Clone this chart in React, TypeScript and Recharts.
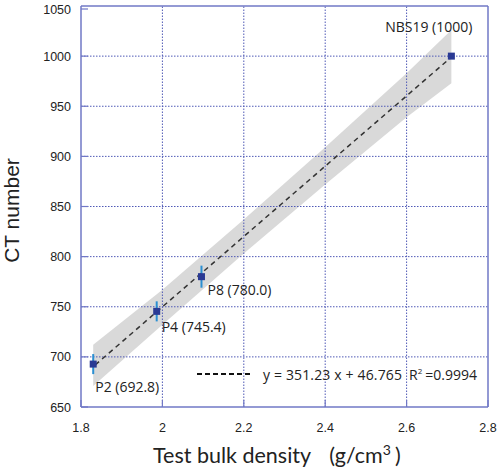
import React from 'react';
import {
  ComposedChart, XAxis, YAxis, Area, Line, Scatter, ErrorBar, ReferenceLine,
} from 'recharts';

// ---- data ----
const xTicks = [1.8, 2.0, 2.2, 2.4, 2.6, 2.8];
const yTicks = [650, 700, 750, 800, 850, 900, 950, 1000, 1050];

const sampleNames = ['P2', 'P4', 'P8', 'NBS19'];
const sampleLabels = ['P2 (692.8)', 'P4 (745.4)', 'P8 (780.0)', 'NBS19 (1000)'];
const sampleDensity = [1.83, 1.986, 2.096, 2.71];
const sampleCT = [692.8, 745.4, 780.0, 1000];
const sampleErr = [10, 10, 11, 0];

const bandX = [1.83, 2.0, 2.2, 2.4, 2.6, 2.71];
const bandLow = [671, 732, 803, 872, 939, 973];
const bandHigh = [712, 767, 837, 909, 983, 1026];

const fitX = [1.835, 2.71];
const fitY = [692, 999];

const fitEquation = 'y = 351.23 x + 46.765';
const fitR2 = '0.9994';

const points = sampleNames.map((n, i) => ({
  name: n, label: sampleLabels[i], x: sampleDensity[i], y: sampleCT[i], err: sampleErr[i],
}));
const band = bandX.map((x, i) => ({ x, range: [bandLow[i], bandHigh[i]] }));
const fit = fitX.map((x, i) => ({ x, y: fitY[i] }));

// ---- styles ----
const AXIS = '#7178c6';
const GRID = '#4f59b6';
const MARK = '#2a3a94';
const ERR = '#2a8fd2';
const TICK_FONT = '"Liberation Sans", Arial, sans-serif';
const LABEL_FONT = '"Open Sans", "Noto Sans", sans-serif';
const TITLE_FONT = 'Lato, "Open Sans", sans-serif';

const labelPlacement: Record<string, { dx: number; dy: number; anchor: 'start' | 'end' }> = {
  P2: { dx: 2, dy: 28, anchor: 'start' },
  P4: { dx: 5, dy: 21, anchor: 'start' },
  P8: { dx: 6, dy: 18, anchor: 'start' },
  NBS19: { dx: 21, dy: -24, anchor: 'end' },
};

const XTick = (props: any) => {
  const { x, y, payload } = props;
  return (
    <g>
      <line x1={x} x2={x} y1={y} y2={y - 7} stroke={AXIS} strokeWidth={1.2} />
      <text x={x} y={y + 24.5} textAnchor="middle" fontFamily={TICK_FONT} fontSize={12.5} fill="#222">
        {String(payload.value)}
      </text>
    </g>
  );
};

const YTick = (props: any) => {
  const { x, y, payload } = props;
  return (
    <g>
      <line x1={x} x2={x + 7} y1={y} y2={y} stroke={AXIS} strokeWidth={1.2} />
      <text x={x - 10} y={y + 4.5} textAnchor="end" fontFamily={TICK_FONT} fontSize={12.5} fill="#222">
        {String(payload.value)}
      </text>
    </g>
  );
};

const PointShape = (props: any) => {
  const { cx, cy, payload } = props;
  const p = labelPlacement[payload.name];
  return (
    <g>
      <rect x={cx - 3.5} y={cy - 3.5} width={7} height={7} fill={MARK} />
      <text x={cx + p.dx} y={cy + p.dy} textAnchor={p.anchor} fontFamily={LABEL_FONT} fontSize={14} fill="#222">
        {payload.label}
      </text>
    </g>
  );
};

const YLabel = (props: any) => {
  const vb = props.viewBox;
  const cx = vb.x + 11;
  const cy = vb.y + vb.height / 2 + 4;
  return (
    <text x={cx} y={cy} transform={`rotate(-90 ${cx} ${cy})`} textAnchor="middle" dominantBaseline="central"
      fontFamily={TICK_FONT} fontSize={21} fill="#222">
      CT number
    </text>
  );
};

const XLabel = (props: any) => {
  const vb = props.viewBox;
  const x0 = vb.x + 72;
  const y0 = vb.y + 56;
  return (
    <text x={x0} y={y0} fontFamily={TITLE_FONT} fontSize={21.5} fill="#222">
      <tspan>Test bulk density</tspan>
      <tspan dx={18}>(g/cm</tspan>
      <tspan dy={-8} fontSize={14}>3</tspan>
      <tspan dy={8} dx={4}>)</tspan>
    </text>
  );
};

export default function App() {
  return (
    <div style={{ position: 'absolute', left: 0, top: 0, width: 498, height: 470, background: '#fff' }}>
      <ComposedChart width={498} height={470} margin={{ top: 6, right: 10, bottom: 0, left: 0 }}>
        <XAxis type="number" dataKey="x" domain={[1.8, 2.8]} ticks={xTicks} allowDataOverflow
          height={63} stroke={AXIS} strokeWidth={1.5} tickLine={false} tickSize={0} tickMargin={0}
          tick={<XTick />} label={<XLabel />} />
        <YAxis type="number" domain={[650, 1050]} ticks={yTicks} allowDataOverflow
          width={81} stroke={AXIS} strokeWidth={1.5} tickLine={false} tickSize={0} tickMargin={0}
          tick={<YTick />} label={<YLabel />} />
        <Area data={band} dataKey="range" type="linear" stroke="none" fill="#d9d9d9" fillOpacity={1}
          isAnimationActive={false} />
        {xTicks.slice(1, -1).map((t) => (
          <ReferenceLine key={'gx' + t} x={t} stroke={GRID} strokeOpacity={1} strokeDasharray="1.5 1.5" strokeWidth={1} />
        ))}
        {yTicks.slice(1, -1).map((t) => (
          <ReferenceLine key={'gy' + t} y={t} stroke={GRID} strokeOpacity={1} strokeDasharray="1.5 1.5" strokeWidth={1} />
        ))}
        <ReferenceLine x={2.8} stroke={AXIS} strokeWidth={1.5} />
        <ReferenceLine y={1050} stroke={AXIS} strokeWidth={1.5} />
        <Line data={fit} dataKey="y" type="linear" stroke="#333" strokeWidth={1.5} strokeDasharray="5 4"
          dot={false} activeDot={false} isAnimationActive={false} />
        <Scatter data={points} dataKey="y" shape={<PointShape />} isAnimationActive={false}>
          <ErrorBar dataKey="err" direction="y" width={0} stroke={ERR} strokeWidth={2} />
        </Scatter>
      </ComposedChart>
      <svg width={498} height={470} style={{ position: 'absolute', left: 0, top: 0, pointerEvents: 'none' }}>
        <line x1={197} x2={253} y1={374} y2={374} stroke="#111" strokeWidth={2} strokeDasharray="5 3" />
        <text x={263} y={380} fontFamily={LABEL_FONT} fontSize={14} fill="#222"
          textLength={139} lengthAdjust="spacing">{fitEquation}</text>
        <text x={409} y={380} fontFamily={LABEL_FONT} fontSize={14} fill="#222">
          R<tspan dy={-6} fontSize={8}>2</tspan><tspan dy={6} dx={3}>{'=' + fitR2}</tspan>
        </text>
      </svg>
    </div>
  );
}
